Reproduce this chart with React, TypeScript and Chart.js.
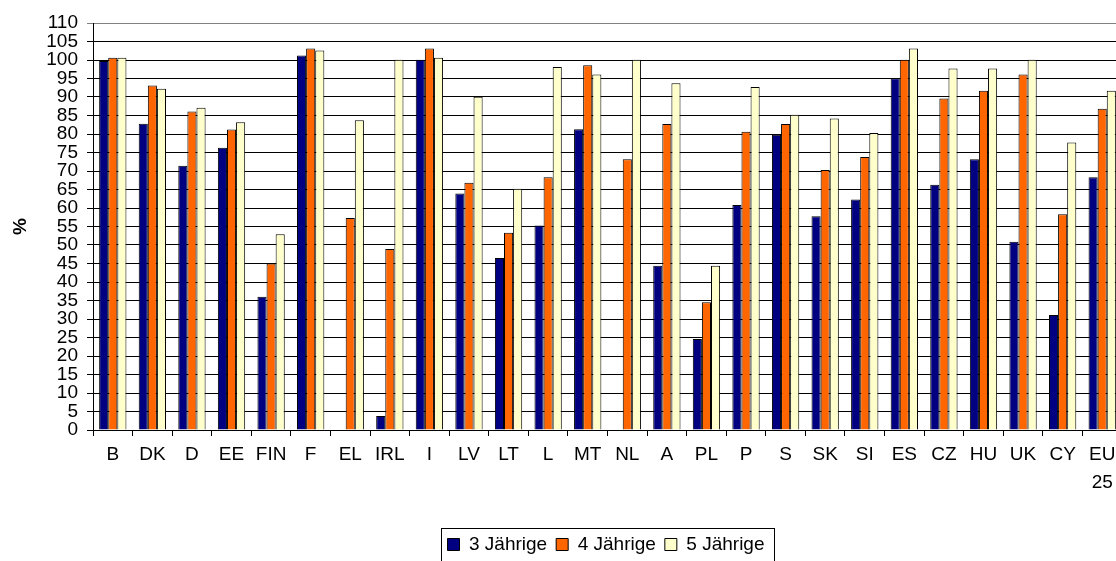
import React, { useEffect, useRef } from "react";
import { Chart, registerables } from "chart.js";

Chart.register(...registerables);

const categories: (string | string[])[] = [
  "B", "DK", "D", "EE", "FIN", "F", "EL", "IRL", "I", "LV", "LT", "L", "MT", "NL",
  "A", "PL", "P", "S", "SK", "SI", "ES", "CZ", "HU", "UK", "CY", ["EU", "25"],
];

const age3: (number | null)[] = [
  99.7, 82.8, 71.4, 76.3, 36.0, 101.2, null, 3.8, 100.1, 63.9, 46.5, 55.3, 81.3, null,
  44.4, 24.6, 60.8, 79.8, 57.8, 62.3, 95.1, 66.3, 73.2, 50.9, 31.1, 68.3,
];
const age4: (number | null)[] = [
  100.6, 93.1, 86.1, 81.2, 45.0, 103.1, 57.3, 48.9, 103.1, 66.8, 53.3, 68.3, 98.6, 73.2,
  82.7, 34.5, 80.6, 82.7, 70.3, 73.8, 100.1, 89.6, 91.7, 96.1, 58.3, 86.8,
];
const age5: (number | null)[] = [
  100.6, 92.2, 87.1, 83.2, 52.9, 102.6, 83.7, 100.1, 100.6, 90.1, 65.2, 98.1, 96.1, 100.1,
  93.7, 44.4, 92.7, 85.2, 84.2, 80.3, 103.1, 97.7, 97.7, 100.1, 77.7, 91.7,
];

const seriesNames = ["3 Jährige", "4 Jährige", "5 Jährige"];
const seriesColors = ["#000080", "#FF6600", "#FFFFCC"];

const FONT = "'Liberation Sans', Arial, sans-serif";

const legendBorder = {
  id: "legendBorder",
  afterDraw(chart: any) {
    const lg = chart.legend;
    if (!lg || !lg.legendHitBoxes || !lg.legendHitBoxes.length) return;
    const hb = lg.legendHitBoxes;
    let l = Infinity, r = -Infinity;
    hb.forEach((b: any) => {
      l = Math.min(l, b.left);
      r = Math.max(r, b.left + b.width);
    });
    const top = hb[0].top - 7;
    const ctx = chart.ctx;
    ctx.save();
    ctx.strokeStyle = "#000";
    ctx.lineWidth = 1;
    ctx.strokeRect(Math.round(l - 7) + 0.5, Math.round(top) + 0.5, Math.round(r - l + 16), 60);
    ctx.restore();
  },
};

export default function App() {
  const ref = useRef<HTMLCanvasElement | null>(null);
  useEffect(() => {
    if (!ref.current) return;
    const chart = new Chart(ref.current, {
      type: "bar",
      data: {
        labels: categories,
        datasets: [age3, age4, age5].map((d, i) => ({
          label: seriesNames[i],
          data: d,
          backgroundColor: seriesColors[i],
          borderColor: "#000",
          borderWidth: 1,
          categoryPercentage: 0.69,
          barPercentage: 1,
          yAxisID: "y",
        })),
      },
      options: {
        responsive: false,
        animation: false,
        layout: { padding: { top: 23, left: 0, right: 0, bottom: -3 } },
        plugins: {
          tooltip: { enabled: false },
          legend: {
            position: "bottom",
            labels: {
              boxWidth: 12,
              boxHeight: 12,
              padding: 9,
              color: "#000",
              font: { family: FONT, size: 19 },
            },
          },
        },
        scales: {
          x: {
            offset: true,
            grid: {
              display: true,
              drawOnChartArea: false,
              drawTicks: true,
              tickLength: 6,
              color: "#000",
            },
            border: { display: true, color: "#000" },
            ticks: {
              color: "#000",
              maxRotation: 0,
              autoSkip: false,
              padding: 5,
              font: { family: FONT, size: 19, lineHeight: 1.45 },
            },
            afterFit: (s: any) => {
              s.height = 96;
            },
          },
          y: {
            min: 0,
            max: 110,
            position: "left",
            grid: {
              color: (c: any) => (c.tick && c.tick.value === 110 ? "#808080" : "#000"),
              tickLength: 6,
            },
            border: { display: true, color: "#000" },
            ticks: {
              stepSize: 5,
              autoSkip: false,
              color: "#000",
              padding: 9,
              font: { family: FONT, size: 19, lineHeight: 1 },
            },
            title: {
              display: true,
              text: "%",
              color: "#000",
              padding: { top: 9, bottom: 0 },
              font: { family: FONT, size: 19, weight: "bold" },
            },
            afterFit: (s: any) => {
              s.width = 93;
            },
          },
          y2: {
            type: "linear",
            position: "right",
            display: true,
            grid: { display: false, drawTicks: false },
            border: { display: false },
            ticks: { display: false },
            afterFit: (s: any) => {
              s.width = 90;
            },
          },
        },
      },
      plugins: [legendBorder],
    } as any);
    return () => chart.destroy();
  }, []);

  return (
    <div
      style={{
        position: "absolute",
        left: 0,
        top: 0,
        width: 1116,
        height: 561,
        overflow: "hidden",
        background: "#fff",
      }}
    >
      <canvas ref={ref} width={1212} height={561} style={{ width: 1212, height: 561, display: "block" }} />
    </div>
  );
}
